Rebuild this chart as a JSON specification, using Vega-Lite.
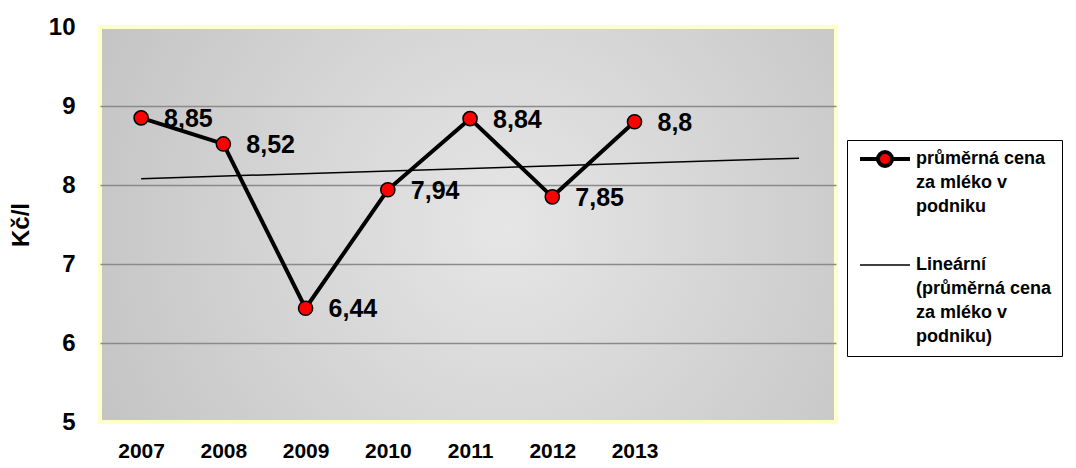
{
  "$schema": "https://vega.github.io/schema/vega-lite/v6.json",
  "width": 736,
  "height": 395,
  "autosize": {"type": "none"},
  "padding": {"left": 100, "top": 27, "right": 240, "bottom": 46},
  "background": "white",
  "config": {
    "locale": {"number": {"decimal": ",", "thousands": " ", "grouping": [3], "currency": ["", " Kč"]}},
    "font": "Liberation Sans",
    "view": {
      "fill": {"gradient": "radial", "x1": 0.55, "y1": 0.5, "x2": 0.55, "y2": 0.5, "r1": 0, "r2": 0.75,
        "stops": [{"offset": 0, "color": "#e6e6e6"}, {"offset": 1, "color": "#bcbcbc"}]},
      "stroke": "#ffffc8",
      "strokeWidth": 4
    }
  },
  "data": {
    "values": [
      {"year": 2007, "price": 8.85, "series": "průměrná cena za mléko v podniku"},
      {"year": 2008, "price": 8.52, "series": "průměrná cena za mléko v podniku"},
      {"year": 2009, "price": 6.44, "series": "průměrná cena za mléko v podniku"},
      {"year": 2010, "price": 7.94, "series": "průměrná cena za mléko v podniku"},
      {"year": 2011, "price": 8.84, "series": "průměrná cena za mléko v podniku"},
      {"year": 2012, "price": 7.85, "series": "průměrná cena za mléko v podniku"},
      {"year": 2013, "price": 8.8, "series": "průměrná cena za mléko v podniku"},
      {"year": 2007, "price": 8.08, "series": "Lineární (průměrná cena za mléko v podniku)"},
      {"year": 2015, "price": 8.34, "series": "Lineární (průměrná cena za mléko v podniku)"}
    ]
  },
  "encoding": {
    "x": {
      "field": "year", "type": "quantitative",
      "scale": {"domain": [2006.5, 2015.45], "nice": false, "zero": false},
      "axis": {
        "values": [2007, 2008, 2009, 2010, 2011, 2012, 2013], "format": "d",
        "title": null, "grid": false, "ticks": false, "domain": false,
        "labelFont": "Liberation Sans", "labelFontSize": 21, "labelFontWeight": "bold",
        "labelColor": "black", "labelPadding": 18, "labelFlush": false
      }
    },
    "y": {
      "field": "price", "type": "quantitative",
      "scale": {"domain": [5, 10], "nice": false, "zero": false},
      "axis": {
        "values": [5, 6, 7, 8, 9, 10], "title": "Kč/l",
        "titleFont": "Liberation Sans", "titleFontSize": 24, "titleFontWeight": "bold", "titleColor": "black",
        "titlePadding": 15,
        "ticks": false, "domain": false,
        "labelFont": "Liberation Sans", "labelFontSize": 24, "labelFontWeight": "bold", "labelColor": "black",
        "labelPadding": 25, "labelFlush": false,
        "gridColor": "#8a8a8a", "gridWidth": 1.5,
        "gridOpacity": {"condition": {"test": "datum.value == 5 || datum.value == 10", "value": 0}, "value": 1}
      }
    }
  },
  "layer": [
    {
      "transform": [{"filter": "datum.series != 'průměrná cena za mléko v podniku'"}],
      "mark": {"type": "line", "strokeWidth": 1.5},
      "encoding": {
        "color": {
          "field": "series", "type": "nominal",
          "scale": {"domain": ["průměrná cena za mléko v podniku", "Lineární (průměrná cena za mléko v podniku)"], "range": ["black", "black"]},
          "legend": {
            "title": null, "orient": "none", "legendX": 747, "legendY": 113,
            "direction": "vertical",
            "strokeColor": "black", "fillColor": "white", "padding": 10,
            "symbolSize": 2500, "symbolStrokeWidth": 2, "symbolOffset": 19,
            "labelFont": "Liberation Sans", "labelFontSize": 18, "labelFontWeight": "bold", "labelColor": "black",
            "labelLimit": 400, "labelOffset": 22, "rowPadding": 40,
            "labelExpr": "datum.value == 'průměrná cena za mléko v podniku' ? ['průměrná cena', 'za mléko v', 'podniku'] : ['Lineární', '(průměrná cena', 'za mléko v', 'podniku)']",
            "encode": {
              "symbols": {
                "update": {
                  "shape": {"signal": "datum.value == 'průměrná cena za mléko v podniku' ? 'M-1,0H-0.3M0.3,0H1M-0.28,0A0.28,0.28 0 1 1 0.28,0A0.28,0.28 0 1 1 -0.28,0' : 'M-1,0H1'"},
                  "fill": {"signal": "datum.value == 'průměrná cena za mléko v podniku' ? 'red' : 'transparent'"},
                  "stroke": {"value": "black"},
                  "strokeWidth": {"signal": "datum.value == 'průměrná cena za mléko v podniku' ? 4 : 1.5"}
                }
              },
              "labels": {
                "update": {
                  "lineHeight": {"value": 24}
                }
              }
            }
          }
        }
      }
    },
    {
      "transform": [{"filter": "datum.series == 'průměrná cena za mléko v podniku'"}],
      "mark": {"type": "line", "strokeWidth": 4, "color": "black"},
      "encoding": {"color": {"field": "series", "type": "nominal"}}
    },
    {
      "transform": [{"filter": "datum.series == 'průměrná cena za mléko v podniku'"}],
      "mark": {"type": "point", "shape": "circle", "filled": true, "fill": "red", "stroke": "black", "strokeWidth": 1.5, "size": 200, "opacity": 1},
      "encoding": {}
    },
    {
      "transform": [{"filter": "datum.series == 'průměrná cena za mléko v podniku'"}],
      "mark": {"type": "text", "align": "left", "baseline": "middle", "dx": 23, "dy": 1, "font": "Liberation Sans", "fontSize": 25, "fontWeight": "bold", "color": "black"},
      "encoding": {"text": {"field": "price", "type": "quantitative", "format": "~g"}}
    }
  ]
}
